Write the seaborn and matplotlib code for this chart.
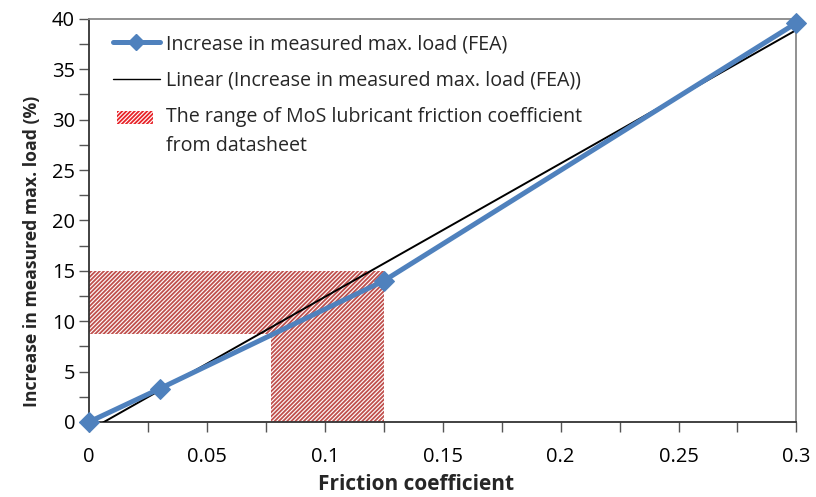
import numpy as np
import pandas as pd
import seaborn as sns
import matplotlib
matplotlib.use("Agg")
import matplotlib.pyplot as plt
from matplotlib.ticker import MultipleLocator, FuncFormatter
from matplotlib.patches import Patch, Rectangle
from matplotlib.lines import Line2D
from matplotlib.legend_handler import HandlerPatch

# FEA results: friction coefficient vs. increase in measured max. load
friction = [0.0, 0.03, 0.125, 0.3]
load_increase = [0.0, 3.3, 14.0, 39.6]

# MoS lubricant friction coefficient range from datasheet and matching load range
mos_friction_range = [0.077, 0.125]
mos_load_range = [8.7, 15.0]

series_label = "Increase in measured max. load (FEA)"
trend_label = "Linear (Increase in measured max. load (FEA))"
range_label = "The range of MoS lubricant friction coefficient\nfrom datasheet"

sns.set_style("white")
plt.rcParams["font.family"] = ["Open Sans", "DejaVu Sans"]
plt.rcParams["hatch.linewidth"] = 1.3

fig = plt.figure(figsize=(8.16, 4.97), dpi=100)
ax = fig.add_axes([0.109, 0.151, 0.867, 0.811])

blue = "#4f81bd"
red = "#c0504d"

df = pd.DataFrame({"friction": friction, "load": load_increase})

# hatched L-shaped region marking the datasheet range
plt.rcParams["hatch.color"] = red
ax.fill_between([0.0, mos_friction_range[1]], mos_load_range[0], mos_load_range[1],
                facecolor="none", edgecolor=red, hatch="////////", linewidth=0, zorder=1)
ax.fill_between(mos_friction_range, 0.0, mos_load_range[0],
                facecolor="none", edgecolor=red, hatch="////////", linewidth=0, zorder=1)

# data series
sns.lineplot(data=df, x="friction", y="load", ax=ax, color=blue, linewidth=3.6,
             marker="D", markersize=10, markeredgecolor=blue, zorder=4, clip_on=False)

# least-squares linear trend line
slope, intercept = np.polyfit(friction, load_increase, 1)
xs = np.array([0.0, 0.3])
ax.plot(xs, slope * xs + intercept, color="black", linewidth=1.4, zorder=3)

ax.set_xlim(0, 0.3)
ax.set_ylim(0, 40)
ax.xaxis.set_major_locator(MultipleLocator(0.05))
ax.xaxis.set_minor_locator(MultipleLocator(0.025))
ax.yaxis.set_major_locator(MultipleLocator(5))
ax.yaxis.set_minor_locator(MultipleLocator(2.5))
ax.xaxis.set_major_formatter(FuncFormatter(lambda v, p: f"{v:g}"))
ax.tick_params(axis="both", which="both", direction="out", length=7, width=1,
               color="#555555", labelsize=14.5, labelcolor="black",
               bottom=True, left=True, top=False, right=False)
ax.tick_params(axis="x", which="major", pad=11)
ax.tick_params(axis="y", which="major", pad=3)

for side in ["left", "bottom"]:
    ax.spines[side].set_color("#333333")
    ax.spines[side].set_linewidth(1.3)
for side in ["top", "right"]:
    ax.spines[side].set_color("#888888")
    ax.spines[side].set_linewidth(1.3)

ax.set_xlabel("Friction coefficient", fontsize=15, fontweight="bold")
ax.set_ylabel("Increase in measured max. load (%)", fontsize=12.7, fontweight="bold")
ax.xaxis.set_label_coords(0.463, -0.128)
ax.yaxis.set_label_coords(-0.068, 0.423)


def first_line_patch(legend, orig_handle, xdescent, ydescent, width, height, fontsize):
    # align the hatch swatch with the first line of a two-line label
    return Rectangle((-xdescent + 3, -ydescent + 11), width - 8, height)


handles = [
    Line2D([0], [0], color=blue, linewidth=3.6, marker="D", markersize=8),
    Line2D([0], [0], color="black", linewidth=1.0),
    Patch(facecolor="none", edgecolor="#e8242a", hatch="////////", linewidth=0),
]
leg = ax.legend(handles, [series_label, trend_label, range_label],
                loc="upper left", bbox_to_anchor=(0.034, 0.962), frameon=False,
                borderaxespad=0, borderpad=0,
                handler_map={Patch: HandlerPatch(patch_func=first_line_patch)},
                fontsize=14.1, handlelength=2.4, handletextpad=0.3, labelspacing=0.85)
for t in leg.get_texts():
    t.set_linespacing(1.6)

fig.savefig("out.png", dpi=100, facecolor="white")
